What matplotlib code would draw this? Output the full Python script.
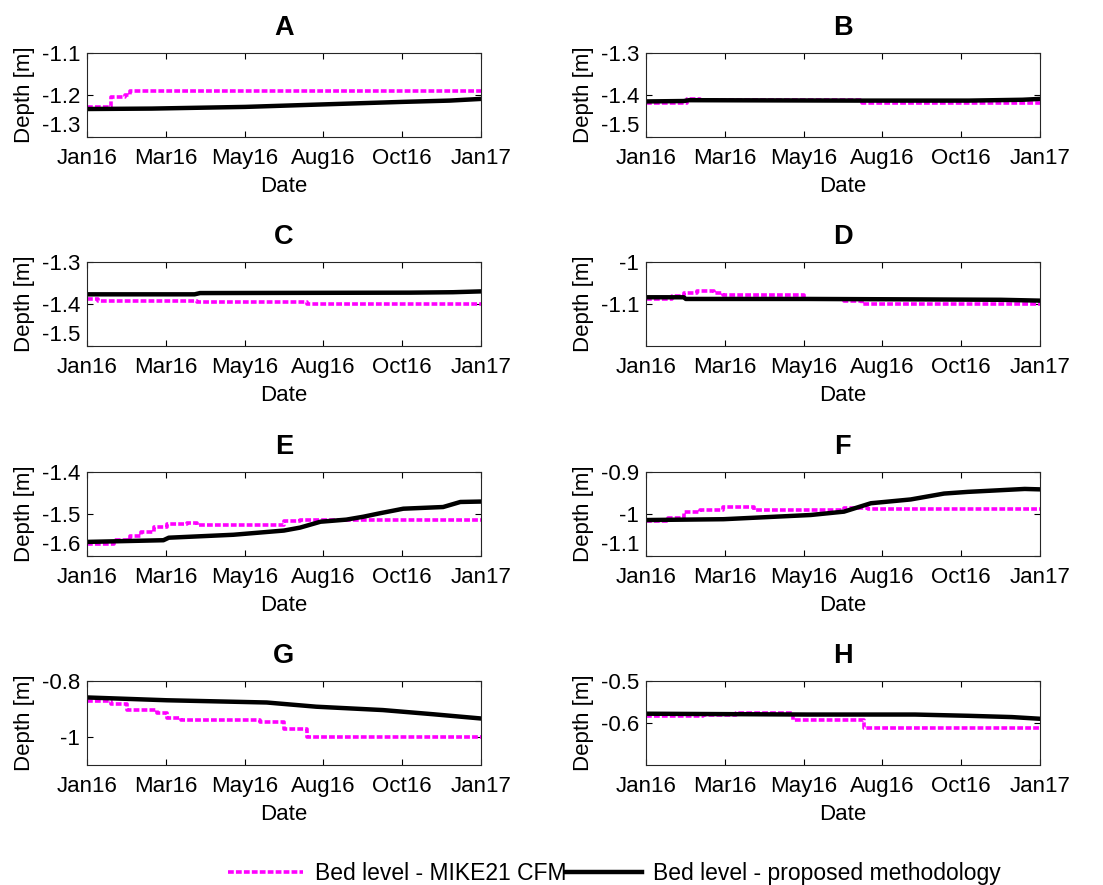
import matplotlib
matplotlib.use('Agg')
import matplotlib.pyplot as plt
from matplotlib.ticker import FormatStrFormatter

plt.rcParams['font.family'] = ['Liberation Sans', 'DejaVu Sans']
plt.rcParams['axes.unicode_minus'] = False

# days since 1 Jan 2016
date_ticks = [0, 73.2, 146.4, 219.6, 292.8, 366]
date_labels = ['Jan16', 'Mar16', 'May16', 'Aug16', 'Oct16', 'Jan17']

# bed level from MIKE21 CFM (stepwise)
mike_A_days = [0, 22, 35, 40, 60, 366]
mike_A = [-1.229, -1.205, -1.200, -1.191, -1.189, -1.189]
mike_B_days = [0, 38, 50, 201, 366]
mike_B = [-1.418, -1.408, -1.412, -1.418, -1.418]
mike_C_days = [0, 10, 40, 102, 204, 366]
mike_C = [-1.388, -1.392, -1.393, -1.396, -1.400, -1.400]
mike_D_days = [0, 24, 35, 47, 63, 72, 147, 184, 201, 366]
mike_D = [-1.088, -1.080, -1.073, -1.070, -1.073, -1.078, -1.088, -1.092, -1.099, -1.099]
mike_E_days = [0, 25, 40, 50, 62, 74, 93, 102, 183, 198, 366]
mike_E = [-1.572, -1.563, -1.553, -1.543, -1.532, -1.524, -1.521, -1.526, -1.518, -1.516, -1.516]
mike_F_days = [0, 20, 35, 50, 72, 100, 184, 206, 366]
mike_F = [-1.017, -1.010, -0.996, -0.990, -0.985, -0.990, -0.986, -0.988, -0.988]
mike_G_days = [0, 22, 37, 65, 74, 87, 161, 183, 204, 366]
mike_G = [-0.871, -0.881, -0.904, -0.916, -0.932, -0.938, -0.946, -0.970, -1.000, -1.000]
mike_H_days = [0, 53, 84, 137, 203, 366]
mike_H = [-0.584, -0.582, -0.577, -0.592, -0.611, -0.611]

# bed level from the proposed methodology
prop_A_days = [0, 60, 147, 220, 294, 337, 366]
prop_A = [-1.233, -1.232, -1.228, -1.222, -1.216, -1.213, -1.209]
prop_B_days = [0, 35, 40, 200, 300, 350, 366]
prop_B = [-1.415, -1.414, -1.412, -1.413, -1.413, -1.411, -1.409]
prop_C_days = [0, 100, 105, 300, 340, 366]
prop_C = [-1.377, -1.377, -1.374, -1.373, -1.372, -1.370]
prop_D_days = [0, 35, 37, 150, 250, 330, 366]
prop_D = [-1.084, -1.084, -1.088, -1.088, -1.089, -1.090, -1.092]
prop_E_days = [0, 71, 76, 136, 183, 198, 217, 241, 257, 272, 294, 331, 347, 366]
prop_E = [-1.567, -1.563, -1.557, -1.550, -1.540, -1.533, -1.519, -1.514, -1.507,
          -1.499, -1.488, -1.484, -1.472, -1.471]
prop_F_days = [0, 72, 153, 184, 209, 246, 277, 299, 352, 366]
prop_F = [-1.015, -1.013, -1.003, -0.995, -0.975, -0.966, -0.952, -0.948, -0.941, -0.942]
prop_G_days = [0, 74, 167, 213, 275, 322, 366]
prop_G = [-0.859, -0.869, -0.877, -0.892, -0.904, -0.919, -0.934]
prop_H_days = [0, 150, 250, 300, 340, 366]
prop_H = [-0.578, -0.580, -0.580, -0.583, -0.586, -0.590]

panels = ['A', 'B', 'C', 'D', 'E', 'F', 'G', 'H']
ylims = [(-1.3, -1.1), (-1.5, -1.3), (-1.5, -1.3), (-1.2, -1.0),
         (-1.6, -1.4), (-1.1, -0.9), (-1.1, -0.8), (-0.7, -0.5)]
yticks = [[-1.3, -1.2, -1.1], [-1.5, -1.4, -1.3], [-1.5, -1.4, -1.3], [-1.1, -1.0],
          [-1.6, -1.5, -1.4], [-1.1, -1.0, -0.9], [-1.0, -0.8], [-0.6, -0.5]]
mike = [(mike_A_days, mike_A), (mike_B_days, mike_B), (mike_C_days, mike_C), (mike_D_days, mike_D),
        (mike_E_days, mike_E), (mike_F_days, mike_F), (mike_G_days, mike_G), (mike_H_days, mike_H)]
prop = [(prop_A_days, prop_A), (prop_B_days, prop_B), (prop_C_days, prop_C), (prop_D_days, prop_D),
        (prop_E_days, prop_E), (prop_F_days, prop_F), (prop_G_days, prop_G), (prop_H_days, prop_H)]

fig = plt.figure(figsize=(11.03, 8.85), dpi=100)
lefts = [0.0789, 0.5857]
bottoms = [0.845, 0.609, 0.372, 0.1356]

for i, name in enumerate(panels):
    ax = fig.add_axes([lefts[i % 2], bottoms[i // 2], 0.357, 0.095])
    l1, = ax.plot(mike[i][0], mike[i][1], color='#ff00ff', lw=2.6, drawstyle='steps-post',
                  dashes=(1.6, 0.6), label='Bed level - MIKE21 CFM')
    l2, = ax.plot(prop[i][0], prop[i][1], color='black', lw=3.2,
                  label='Bed level - proposed methodology')
    ax.set_xlim(0, 366)
    ax.set_ylim(*ylims[i])
    ax.set_xticks(date_ticks)
    ax.set_xticklabels(date_labels)
    ax.set_yticks(yticks[i])
    ax.yaxis.set_major_formatter(FormatStrFormatter('%g'))
    ax.tick_params(direction='in', top=True, right=True, length=4, width=0.8,
                   labelsize=16)
    ax.tick_params(axis='x', pad=8)
    ax.tick_params(axis='y', pad=5)
    # lowest y label sits on the bottom edge, clear of the first date label
    if abs(yticks[i][0] - ylims[i][0]) < 1e-9:
        fig.canvas.draw()
        ax.get_yticklabels()[0].set_verticalalignment('bottom')
    for s in ax.spines.values():
        s.set_linewidth(0.8)
        s.set_color('#262626')
    ax.set_title(name, fontsize=19.5, fontweight='bold', pad=13)
    ax.set_xlabel('Date', fontsize=16, labelpad=5)
    ax.set_ylabel('Depth [m]', fontsize=16)
    ax.yaxis.set_label_coords(-0.132, 0.5)

fig.legend([l1, l2], ['Bed level - MIKE21 CFM', 'Bed level - proposed methodology'],
           loc='center', bbox_to_anchor=(0.557, 0.0135), ncol=2, frameon=False,
           fontsize=16.5, handlelength=3.3, handletextpad=0.5, columnspacing=0.0)

fig.savefig('out.png', dpi=100)
